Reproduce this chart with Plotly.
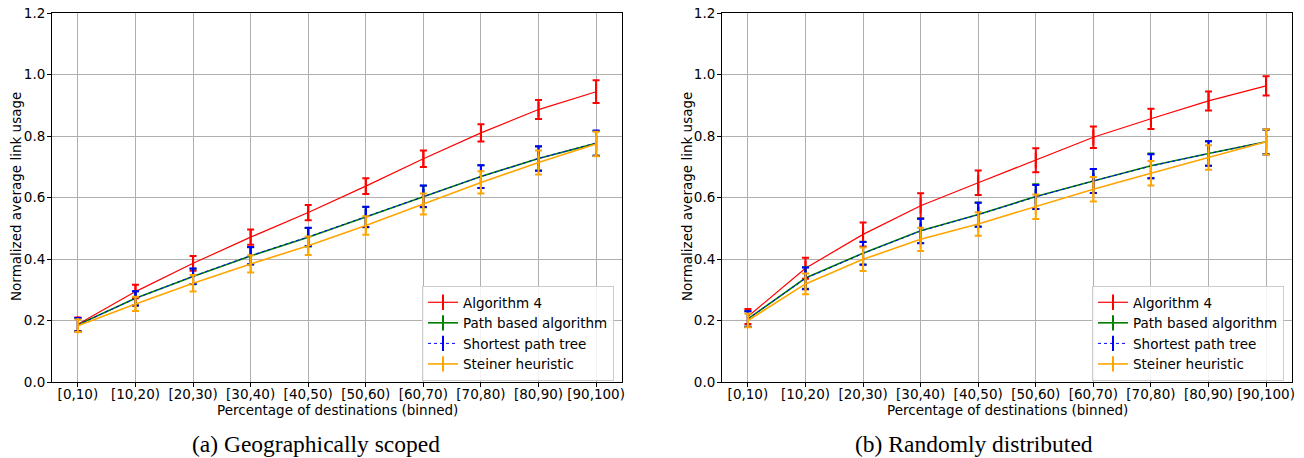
import plotly.graph_objects as go

W, H = 1304, 458

categories = ["[0,10)", "[10,20)", "[20,30)", "[30,40)", "[40,50)",
              "[50,60)", "[60,70)", "[70,80)", "[80,90)", "[90,100)"]
series_names = ["Algorithm 4", "Path based algorithm", "Shortest path tree", "Steiner heuristic"]

# (a) Geographically scoped
alg4_a = [0.188, 0.294, 0.386, 0.471, 0.551, 0.637, 0.726, 0.810, 0.886, 0.944]
alg4_a_err = [0.022, 0.022, 0.024, 0.025, 0.025, 0.026, 0.027, 0.028, 0.031, 0.037]
path_a = [0.186, 0.272, 0.343, 0.410, 0.471, 0.536, 0.603, 0.668, 0.727, 0.776]
path_a_err = [0.022, 0.023, 0.025, 0.028, 0.030, 0.033, 0.035, 0.037, 0.039, 0.040]
spt_a = [0.186, 0.272, 0.344, 0.411, 0.472, 0.537, 0.604, 0.668, 0.727, 0.777]
spt_a_err = [0.022, 0.023, 0.025, 0.028, 0.030, 0.033, 0.035, 0.037, 0.040, 0.041]
steiner_a = [0.183, 0.254, 0.321, 0.384, 0.443, 0.509, 0.579, 0.649, 0.714, 0.774]
steiner_a_err = [0.020, 0.023, 0.027, 0.028, 0.030, 0.030, 0.034, 0.036, 0.039, 0.040]

# (b) Randomly distributed
alg4_b = [0.213, 0.370, 0.480, 0.573, 0.648, 0.721, 0.796, 0.856, 0.914, 0.963]
alg4_b_err = [0.024, 0.034, 0.039, 0.041, 0.040, 0.039, 0.035, 0.033, 0.031, 0.031]
path_b = [0.205, 0.338, 0.419, 0.492, 0.545, 0.603, 0.654, 0.703, 0.743, 0.781]
path_b_err = [0.025, 0.035, 0.037, 0.040, 0.039, 0.040, 0.039, 0.040, 0.040, 0.040]
spt_b = [0.205, 0.337, 0.418, 0.491, 0.544, 0.602, 0.654, 0.702, 0.743, 0.781]
spt_b_err = [0.025, 0.035, 0.037, 0.040, 0.039, 0.039, 0.039, 0.039, 0.040, 0.040]
steiner_b = [0.200, 0.319, 0.399, 0.464, 0.514, 0.570, 0.627, 0.679, 0.730, 0.781]
steiner_b_err = [0.022, 0.034, 0.038, 0.038, 0.038, 0.040, 0.040, 0.040, 0.040, 0.041]

y_ticks = [0.0, 0.2, 0.4, 0.6, 0.8, 1.0, 1.2]
x_title = "Percentage of destinations (binned)"
y_title = "Normalized average link usage"
captions = ["(a) Geographically scoped", "(b) Randomly distributed"]

colors = ["red", "green", "blue", "orange"]
widths = [1.2, 1.6, 1.0, 1.6]
dashes = ["solid", "solid", "dot", "solid"]

panels = [
    ([alg4_a, path_a, spt_a, steiner_a], [alg4_a_err, path_a_err, spt_a_err, steiner_a_err]),
    ([alg4_b, path_b, spt_b, steiner_b], [alg4_b_err, path_b_err, spt_b_err, steiner_b_err]),
]

FONT = "DejaVu Sans"
FS = 13.5
x_idx = list(range(len(categories)))
fig = go.Figure()
for p, (vals, errs) in enumerate(panels):
    xa = "x" if p == 0 else "x2"
    ya = "y" if p == 0 else "y2"
    lg = "legend" if p == 0 else "legend2"
    for i in range(4):
        fig.add_trace(go.Scatter(
            x=x_idx, y=vals[i], mode="lines+markers", name=series_names[i],
            line=dict(color=colors[i], width=widths[i], dash=dashes[i]),
            marker=dict(symbol="line-ns", size=11, color=colors[i],
                        line=dict(color=colors[i], width=2)),
            error_y=dict(type="data", array=errs[i], visible=True,
                         color=colors[i], thickness=2, width=3.5),
            xaxis=xa, yaxis=ya, legend=lg, showlegend=True,
        ))

x_dom = [[52 / W, 622 / W], [722 / W, 1292 / W]]
y_dom = [1 - 382 / H, 1 - 13 / H]

ax_common = dict(showline=True, linecolor="black", linewidth=1, mirror=True,
                 showgrid=True, gridcolor="#b0b0b0", gridwidth=1,
                 ticks="outside", ticklen=4, tickcolor="black", tickwidth=1,
                 zeroline=False, automargin=False,
                 tickfont=dict(family=FONT, size=FS, color="black"))

layout = dict(
    width=W, height=H, margin=dict(l=0, r=0, t=0, b=0, autoexpand=False),
    paper_bgcolor="white", plot_bgcolor="white",
    font=dict(family=FONT, size=FS, color="black"),
)
for p in range(2):
    sx = "" if p == 0 else "2"
    layout["xaxis" + sx] = dict(
        ax_common, domain=x_dom[p], range=[-0.45, 9.45],
        tickmode="array", tickvals=x_idx, ticktext=categories,
        anchor="y" + sx, ticklabelstandoff=-4,
    )
    layout["yaxis" + sx] = dict(
        ax_common, domain=y_dom, range=[0, 1.2],
        tickmode="array", tickvals=y_ticks, ticktext=["%.1f" % v for v in y_ticks],
        anchor="x" + sx, ticklabelstandoff=-1,
    )
leg_common = dict(font=dict(family=FONT, size=FS, color="black"),
                  bgcolor="rgba(255,255,255,0.85)", bordercolor="#cccccc", borderwidth=1,
                  xanchor="right", yanchor="bottom", y=1 - 381 / H, tracegroupgap=0)
layout["legend"] = dict(leg_common, x=614 / W)
layout["legend2"] = dict(leg_common, x=1284 / W)
fig.update_layout(**layout)

xt_x = [337 / W, 1007 / W]
yt_x = [16 / W, 687 / W]
cap_x = [316 / W, 974 / W]
for p in range(2):
    fig.add_annotation(x=xt_x[p], y=1 - 410 / H, xref="paper", yref="paper",
                       text=x_title, showarrow=False, xanchor="center", yanchor="middle",
                       font=dict(family=FONT, size=FS, color="black"))
    fig.add_annotation(x=yt_x[p], y=1 - 197 / H, xref="paper", yref="paper",
                       text=y_title, showarrow=False, xanchor="center", yanchor="middle",
                       textangle=-90, font=dict(family=FONT, size=FS, color="black"))
    fig.add_annotation(x=cap_x[p], y=1 - 444 / H, xref="paper", yref="paper",
                       text=captions[p], showarrow=False, xanchor="center", yanchor="middle",
                       font=dict(family="Liberation Serif", size=23.5, color="black"))

fig.write_html("out.html")
